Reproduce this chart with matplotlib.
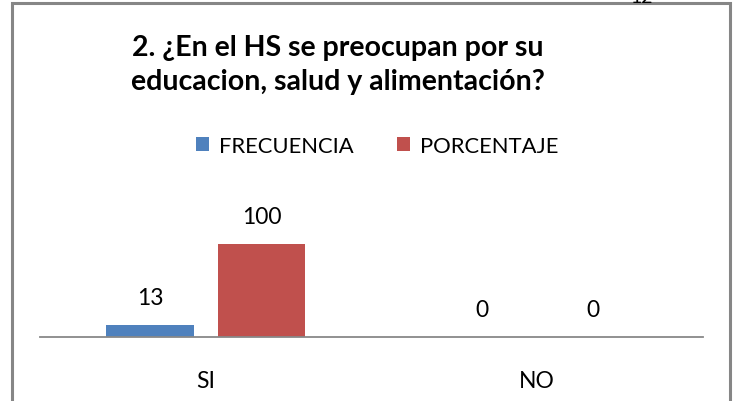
import numpy as np
import matplotlib.pyplot as plt
from matplotlib.patches import Rectangle

# data
categories = ["SI", "NO"]
frecuencia = [13, 0]
porcentaje = [100, 0]
series_names = ["FRECUENCIA", "PORCENTAJE"]
title_text = "2. ¿En el HS se preocupan por su\neducacion, salud y alimentación?"

W, H = 737, 402
fig = plt.figure(figsize=(W / 100, H / 100), dpi=100)
plt.rcParams['font.family'] = ['Lato', 'DejaVu Sans']

# plot area: x 40..703 px, baseline at y=338 px
ax = fig.add_axes([40 / W, (H - 338) / H, 663 / W, 112 / H])
x = np.arange(len(categories))
bw = 0.265
b1 = ax.bar(x - 0.167, frecuencia, bw, color='#4f81bd', label=series_names[0])
b2 = ax.bar(x + 0.168, porcentaje, bw, color='#c0504d', label=series_names[1])
ax.set_xlim(-0.5, 1.5)
ax.set_ylim(0, 120)

for bars in (b1, b2):
    for rect in bars:
        v = rect.get_height()
        ax.annotate(f"{v:g}", (rect.get_x() + rect.get_width() / 2, v),
                    xytext=(0, 12), textcoords='offset points',
                    ha='center', va='bottom', fontsize=16.5)

for s in ['top', 'right', 'left']:
    ax.spines[s].set_visible(False)
ax.spines['bottom'].set_color('#888888')
ax.spines['bottom'].set_linewidth(1.3)
ax.set_yticks([])
ax.set_xticks(x)
ax.set_xticklabels(categories, fontsize=16.5)
ax.tick_params(axis='x', length=0, pad=24)

fig.text(338 / W, 1 - 65 / H, title_text, ha='center', va='center',
         fontsize=20.5, fontweight='bold', linespacing=1.4)

fig.legend(handles=[b1, b2], loc='center', bbox_to_anchor=(377 / W, 1 - 147 / H),
           ncol=2, frameon=False, fontsize=15.8, handlelength=0.6, handleheight=0.6,
           handletextpad=0.45, columnspacing=2.0)

# chart border (bottom edge falls outside the picture)
fig.patches.append(Rectangle((12 / W, -0.1), 718 / W, 1.1 - 4 / H,
                             transform=fig.transFigure, fill=False,
                             edgecolor='#868686', linewidth=2.2))
# clipped page number at the top
fig.text(642 / W, 1 - 3 / H, "12", ha='center', va='baseline', fontsize=14)

fig.savefig("out.png", dpi=100)
